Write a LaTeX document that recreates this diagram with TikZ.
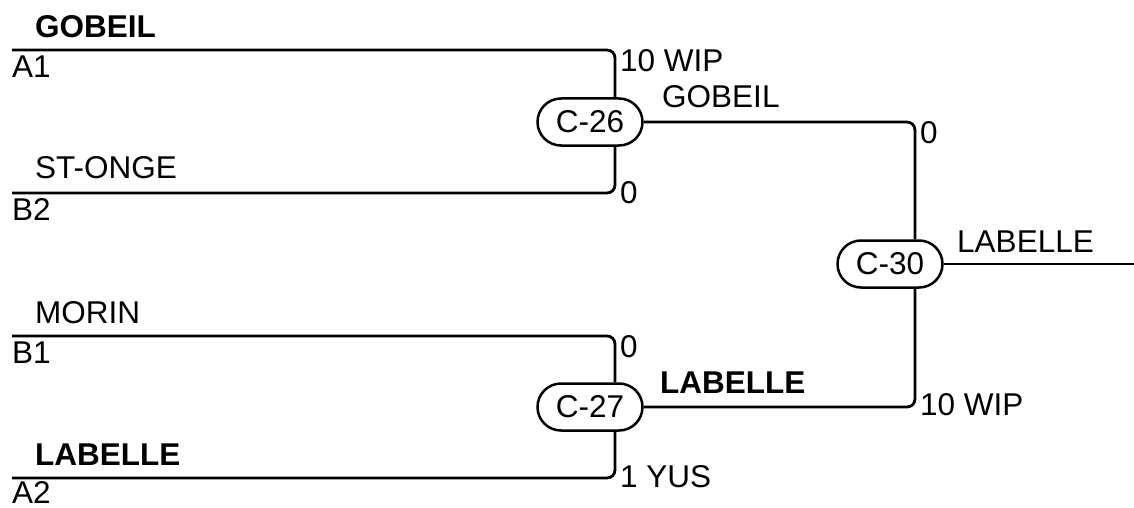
\documentclass[tikz,border=0pt]{standalone}
\usepackage{fontspec}
\setmainfont{Liberation Sans}
\usetikzlibrary{shapes.misc}
\begin{document}
\begin{tikzpicture}[x=1pt,y=-1pt,
  wire/.style={line width=2.8pt, rounded corners=8pt},
  oval/.style={draw, line width=2.5pt, rounded rectangle, minimum width=105pt, minimum height=47pt, inner sep=0pt, font=\fontsize{31.5}{36}\selectfont},
  lbl/.style={anchor=base west, inner sep=0pt, font=\fontsize{31.5}{36}\selectfont},
  blbl/.style={lbl, font=\fontsize{31.5}{36}\selectfont\bfseries}]
\useasboundingbox (0,0) rectangle (1134,508);
% match nodes
\node[oval] (c26) at (590,122) {C-26};
\node[oval] (c27) at (590,407) {C-27};
\node[oval] (c30) at (890,264) {C-30};
% input line starts
\coordinate (a1) at (12,50);
\coordinate (b2) at (12,193);
\coordinate (b1) at (12,336);
\coordinate (a2) at (12,478);
\coordinate (out) at (1134,264);
% connectors
\draw[wire] (a1) -| ([xshift=25pt]c26.north);
\draw[wire] (b2) -| ([xshift=25pt]c26.south);
\draw[wire] (b1) -| ([xshift=25pt]c27.north);
\draw[wire] (a2) -| ([xshift=25pt]c27.south);
\draw[wire] (c26.east) -| ([xshift=25pt]c30.north);
\draw[wire] (c27.east) -| ([xshift=25pt]c30.south);
\draw[wire] (c30.east) -- (out);
% labels
\node[blbl] (t1) at (35,38) {GOBEIL};
\node[lbl] (t2) at (12,78) {A1};
\node[lbl] (t3) at (35,178) {ST-ONGE};
\node[lbl] (t4) at (12,220) {B2};
\node[lbl] (t5) at (35,323) {MORIN};
\node[lbl] (t6) at (12,363) {B1};
\node[blbl] (t7) at (35,465) {LABELLE};
\node[lbl] (t8) at (12,503) {A2};
\node[lbl] (s1) at (620,72) {10 WIP};
\node[lbl] (s2) at (620,203) {0};
\node[lbl] (s3) at (620,357) {0};
\node[lbl] (s4) at (620,487) {1 YUS};
\node[lbl] (w1) at (662,107) {GOBEIL};
\node[blbl] (w2) at (660,393) {LABELLE};
\node[lbl] (s5) at (920,143) {0};
\node[lbl] (s6) at (920,415) {10 WIP};
\node[lbl] (w3) at (957,252) {LABELLE};
\end{tikzpicture}
\end{document}
